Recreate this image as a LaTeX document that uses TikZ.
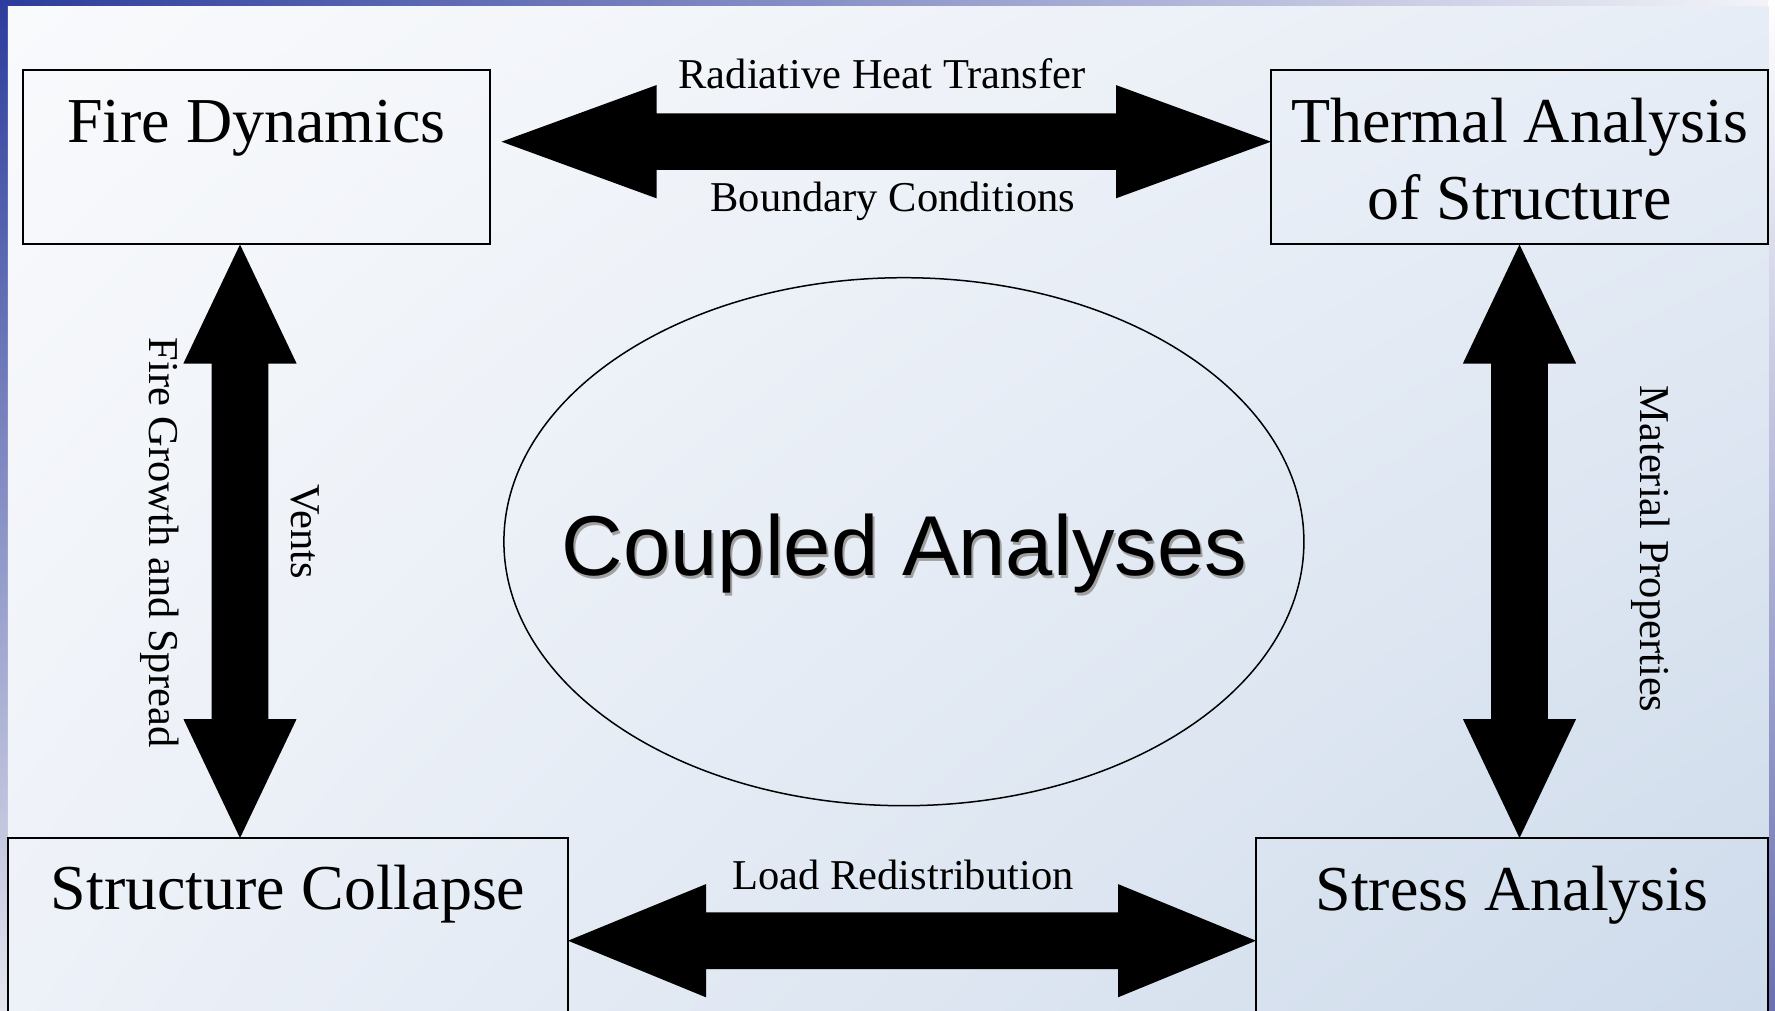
\documentclass[tikz,border=0pt]{standalone}
\usepackage{fontspec}
\setmainfont{Liberation Serif}
\newfontfamily\arialf{Liberation Sans}
\usetikzlibrary{calc,shapes.geometric,shadings}
\definecolor{frmdark}{HTML}{2B3C9C}
\definecolor{frmtopmid}{HTML}{B8B9D4}
\definecolor{frmtopend}{HTML}{F4F4F8}
\definecolor{frmleftmid}{HTML}{9EA2C9}
\definecolor{frmleftend}{HTML}{E4E5ED}
\definecolor{frmrightmid}{HTML}{CFD1E5}
\definecolor{frmrightend}{HTML}{6A70B0}
\definecolor{bgUL}{HTML}{F9FAFC}
\definecolor{bgUR}{HTML}{E7EDF6}
\definecolor{bgLL}{HTML}{EDF1F8}
\definecolor{bgLR}{HTML}{CEDBEB}
\definecolor{shadowgray}{HTML}{A0A0A0}
\newcommand\hdarrow[3]{%
  \fill[fatarrow] (#1) -- ($(#1)+(#3,56.6)$) -- ($(#1)+(#3,28.3)$) -- ($(#2)+(-#3,28.3)$) -- ($(#2)+(-#3,56.6)$) -- (#2) -- ($(#2)+(-#3,-56.6)$) -- ($(#2)+(-#3,-28.3)$) -- ($(#1)+(#3,-28.3)$) -- ($(#1)+(#3,-56.6)$) -- cycle;}
\newcommand\vdarrow[3]{%
  \fill[fatarrow] (#1) -- ($(#1)+(56.6,#3)$) -- ($(#1)+(28.3,#3)$) -- ($(#2)+(28.3,-#3)$) -- ($(#2)+(56.6,-#3)$) -- (#2) -- ($(#2)+(-56.6,-#3)$) -- ($(#2)+(-28.3,-#3)$) -- ($(#1)+(-28.3,#3)$) -- ($(#1)+(-56.6,#3)$) -- cycle;}
\begin{document}
\begin{tikzpicture}[x=1pt,y=-1pt,
  box/.style={draw=black, line width=2pt, inner sep=0pt, outer sep=0pt, anchor=north west},
  titleA/.style={font=\fontsize{64}{76}\selectfont, inner sep=0pt, anchor=base},
  lbl/.style={font=\fontsize{42.5}{48}\selectfont, inner sep=0pt, anchor=base},
  fatarrow/.style={fill=black},
  bigtext/.style={font=\arialf\fontsize{85}{96}\selectfont, inner sep=0pt, anchor=base}]
\useasboundingbox (0,0) rectangle (1775,1011);
\clip (0,0) rectangle (1775,1011);
% frame strips
\shade[left color=frmdark, middle color=frmtopmid, right color=frmtopend] (0,0) rectangle (1775,6.5);
\shade[top color=white, middle color=frmrightmid, bottom color=frmrightend] (1768.5,0) rectangle (1775,1011);
\shade[top color=frmdark, middle color=frmleftmid, bottom color=frmleftend] (0,0) rectangle (7.8,1011);
% background
\shade[upper left=bgUL, upper right=bgUR, lower left=bgLL, lower right=bgLR] (7.8,6.5) rectangle (1768.5,1011);
% central ellipse
\node[ellipse, draw=black, line width=1.5pt, inner sep=0pt, minimum width=800pt, minimum height=528pt] (ell) at (903.9,541.7) {};
\node[bigtext, text=shadowgray] (cash) at (906.5,578.5) {Coupled Analyses};
\node[bigtext] (ca) at (904.5,575) {Coupled Analyses};
% boxes
\node[box, minimum width=467.4pt, minimum height=174.5pt] (fd) at (22.6,70) {};
\node[box, minimum width=497pt, minimum height=174.5pt] (ta) at (1271,70) {};
\node[box, minimum width=560pt, minimum height=240pt] (sc) at (8,838) {};
\node[box, minimum width=512pt, minimum height=240pt] (sa) at (1256,838) {};
% titles
\node[titleA] (fdt) at (256.3,143) {Fire Dynamics};
\node[titleA] (tat1) at (1519.5,143) {Thermal Analysis};
\node[titleA] (tat2) at (1519.5,219) {of Structure};
\node[titleA] (sct) at (288,909) {Structure Collapse};
\node[titleA] (sat) at (1512,910) {Stress Analysis};
% arrow end points
\coordinate (a1) at ([xshift=11.5pt,yshift=-71.7pt]fd.north east);
\coordinate (a2) at ([yshift=-71.7pt]ta.north west);
\coordinate (b1) at ([yshift=-102.7pt]sc.north east);
\coordinate (b2) at ([yshift=-102.7pt]sa.north west);
\coordinate (v1) at ([xshift=217.4pt]fd.south west);
\coordinate (v2) at ([xshift=232pt]sc.north west);
\coordinate (v3) at (ta.south);
\coordinate (v4) at ([xshift=7.5pt]sa.north);
% arrows
\hdarrow{a1}{a2}{155}
\hdarrow{b1}{b2}{138}
\vdarrow{v1}{v2}{119}
\vdarrow{v3}{v4}{119}
% labels
\node[lbl] (rht) at (882,89) {Radiative Heat Transfer};
\node[lbl] (bct) at (893,212) {Boundary Conditions};
\node[lbl] (lrt) at (903,889) {Load Redistribution};
\node[lbl, rotate=-90] (fgs) at (149,542.5) {Fire Growth and Spread};
\node[lbl, rotate=-90] (vts) at (291.7,531.5) {Vents};
\node[lbl, rotate=-90] (mpt) at (1640,549) {Material Properties};
\end{tikzpicture}
\end{document}
